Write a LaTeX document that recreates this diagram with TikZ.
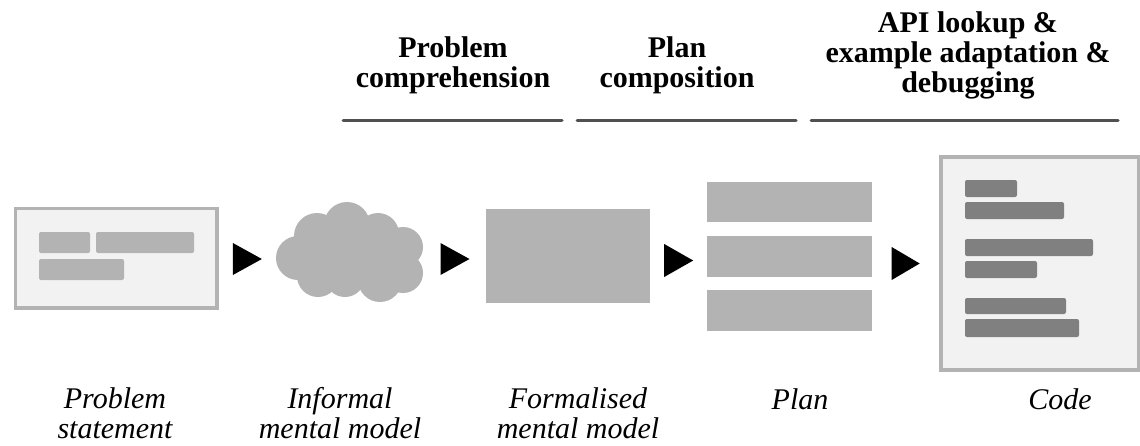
\documentclass[tikz,border=0pt]{standalone}
\usepackage{fontspec}
\setmainfont{Liberation Serif}
\usetikzlibrary{calc}
\definecolor{pale}{HTML}{F2F2F2}
\definecolor{midg}{HTML}{B3B3B3}
\definecolor{darkg}{HTML}{808080}
\definecolor{lineg}{HTML}{505050}
\begin{document}
\begin{tikzpicture}[x=1pt,y=-1pt,
  framebox/.style={draw=midg, fill=pale, inner sep=0pt},
  slab/.style={fill=midg, draw=none, inner sep=0pt},
  bar/.style={fill=midg, rounded corners=2pt},
  codebar/.style={fill=darkg, rounded corners=2pt},
  phase/.style={draw=lineg, line width=3pt, line cap=round},
  head/.style={font=\bfseries\fontsize{30}{30}\selectfont, align=center, anchor=base, inner sep=0pt},
  lab/.style={font=\itshape\fontsize{30}{29.5}\selectfont, align=center, anchor=base, inner sep=0pt},
  tri/.style={fill=black}
]
\useasboundingbox (0,0) rectangle (1140,445);

% Problem statement
\node[framebox, line width=3.5pt, minimum width=201.5pt, minimum height=99.5pt, anchor=north west] (ps) at (13.75,206.75) {};
\fill[bar] (39,232) rectangle (90,253);
\fill[bar] (96,232) rectangle (194,253);
\fill[bar] (39,259) rectangle (124,280);

% Informal mental model (cloud)
\begin{scope}[fill=midg]
  \fill (298,258) circle (22);
  \fill (317,236) circle (23);
  \fill (347,225) circle (23);
  \fill (378,234) circle (21);
  \fill (403,247) circle (20);
  \fill (403,273) circle (20);
  \fill (380,280) circle (22);
  \fill (345,277) circle (20);
  \fill (318,276) circle (21);
  \fill (300,235) rectangle (408,285);
\end{scope}
\coordinate (cloudW) at (276,253);
\coordinate (cloudE) at (424,253);

% Formalised mental model
\node[slab, minimum width=164pt, minimum height=94pt, anchor=north west] (fm) at (486,209) {};

% Plan
\node[minimum width=165pt, minimum height=149pt, inner sep=0pt, anchor=north west] (plan) at (707,182) {};
\fill[midg] (707,182) rectangle (872,222);
\fill[midg] (707,236) rectangle (872,277);
\fill[midg] (707,290) rectangle (872,331);

% Code
\node[framebox, line width=4pt, minimum width=198pt, minimum height=213pt, anchor=north west] (code) at (939,155) {};
\fill[codebar] (965,180) rectangle (1017,197);
\fill[codebar] (965,202) rectangle (1064,219);
\fill[codebar] (965,239) rectangle (1093,256);
\fill[codebar] (965,261) rectangle (1037,278);
\fill[codebar] (965,298) rectangle (1066,314);
\fill[codebar] (965,319) rectangle (1079,337);

% Arrows (triangles between stages)
\coordinate (a1) at ($(ps.east)!0.5!(cloudW)$);
\coordinate (a2) at ($(cloudE)!0.5!(fm.west)$);
\coordinate (a3) at ($(fm.east)!0.5!(plan.west)$);
\coordinate (a4) at ($(plan.east)!0.5!(code.west)$);
\fill[tri] ($(a1 |- 0,243)+(-14.5,0)$) -- ++(29,16) -- ++(-29,16) -- cycle;
\fill[tri] ($(a2 |- 0,243)+(-14.5,0)$) -- ++(29,16) -- ++(-29,16) -- cycle;
\fill[tri] ($(a3 |- 0,244)+(-14.5,0)$) -- ++(29,16.5) -- ++(-29,16.5) -- cycle;
\fill[tri] ($(a4 |- 0,247)+(-14,0)$) -- ++(28,16.5) -- ++(-28,16.5) -- cycle;

% Phase lines
\draw[phase] (343,120) -- (562,120);
\draw[phase] (577,120) -- (796,120);
\draw[phase] (811,120) -- (1118,120);

% Phase headings (anchor = baseline of last line)
\node[head] (h1) at (453,87) {Problem\\comprehension};
\node[head] (h2) at (677,87) {Plan\\composition};
\node[head] (h3) at (968,92) {API lookup \&\\example adaptation \&\\debugging};

% Stage labels
\node[lab] (l1) at (115,438) {Problem\\statement};
\node[lab] (l2) at (340,438) {Informal\\mental model};
\node[lab] (l3) at (578,438) {Formalised\\mental model};
\node[lab] (l4) at (800,409) {Plan};
\node[lab] (l5) at (1060,409) {Code};
\end{tikzpicture}
\end{document}
